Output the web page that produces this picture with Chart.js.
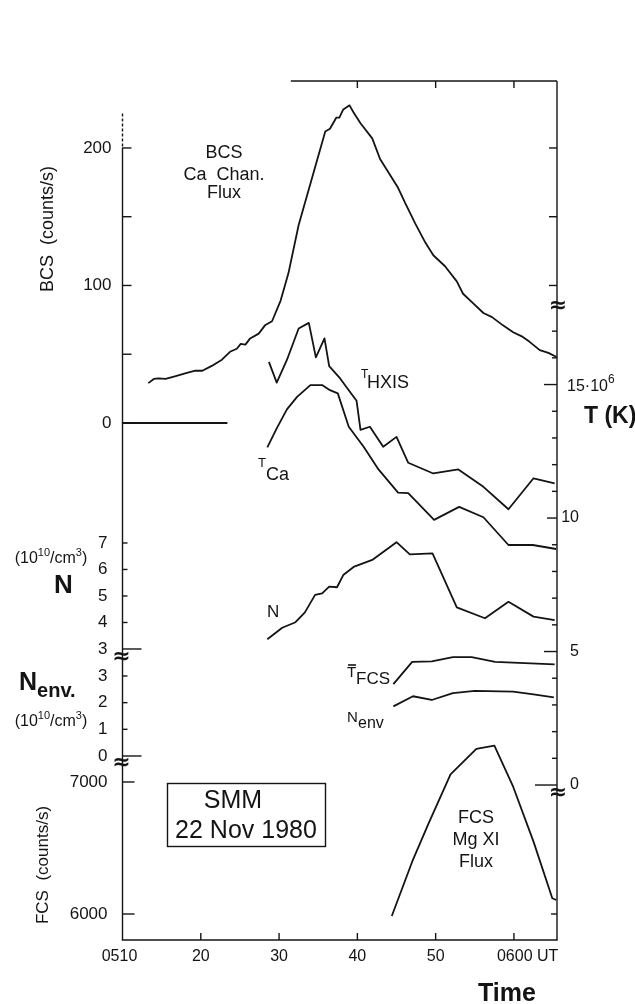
<!DOCTYPE html>
<html><head><meta charset="utf-8">
<script src="https://cdn.jsdelivr.net/npm/chart.js@4.4.1/dist/chart.umd.min.js"></script>
<style>html,body{margin:0;padding:0;background:#fff}#wrap{width:635px;height:1004px;position:relative}</style>
</head><body><div id="wrap"><canvas id="c"></canvas></div>
<script>
// ---- data (time in minutes after 05:00 UT) ----
const bcsTime = [13.3,14.0,14.6,15.5,16.8,18.0,19.3,20.2,21.4,22.7,23.8,24.6,25.1,25.7,26.3,27.4,28.2,29.1,30.2,31.2,32.5,34.4,35.9,36.5,37.3,37.7,38.2,39.0,39.5,40.4,41.9,42.9,44.0,45.2,46.1,47.4,48.7,49.7,51.2,52.7,53.5,54.8,56.1,57.2,58.6,59.9,61.0,62.0,63.3,64.4,65.45];
const bcsFlux = [29,32,32.5,32,34,36,38,38,41.5,46,52,54,57.5,57,61.5,65,71,74,89,109,144,182,212,214,222,222,228,231,226,218,207,192,182,171,160,145,131,122,114,103,94,87,80,77,71,66,63,59,53,51,48];
const bcsZeroTime = [10,23.4];
const bcsZeroFlux = [0,0];
const thxisTime = [28.7,29.7,31.0,32.5,33.8,34.7,35.8,36.4,37.8,38.9,39.9,40.4,41.6,43.3,45.0,46.5,49.7,52.9,56.1,59.3,62.5,65.2];
const thxisTemp = [15.85,15.07,15.92,17.10,17.31,16.02,16.73,15.69,15.23,14.79,14.39,13.30,13.42,12.67,13.04,12.07,11.67,11.82,11.17,10.33,11.49,11.30];
const tcaTime = [28.5,29.7,31.0,32.3,34.0,35.5,36.5,37.5,38.9,40.8,42.7,45.2,46.5,49.8,53.0,56.1,59.3,62.4,65.4];
const tcaTemp = [12.65,13.36,14.07,14.54,14.98,14.98,14.79,14.67,13.42,12.67,11.82,10.95,10.93,9.93,10.42,10.03,8.99,8.99,8.84];
const nTime = [28.5,30.4,32.1,33.3,34.6,35.5,36.4,37.4,38.2,39.6,41.9,45.0,46.7,49.6,52.7,56.3,59.3,62.5,65.2];
const nDens = [3.37,3.80,4.01,4.38,5.04,5.10,5.35,5.33,5.79,6.11,6.36,7.03,6.57,6.61,4.57,4.16,4.78,4.22,4.09];
const tfcsTime = [44.6,47.0,49.5,52.2,54.6,57.6,65.2];
const tfcsTemp = [3.78,4.61,4.63,4.79,4.79,4.61,4.52];
const nenvTime = [44.6,47.1,49.5,52.2,55.0,59.9,62.5,65.1];
const nenvDens = [1.86,2.24,2.10,2.36,2.44,2.41,2.31,2.20];
const fcsTime = [44.4,47.0,49.1,51.9,55.2,57.5,59.9,62.5,64.9,65.4];
const fcsFlux = [5985,6396,6687,7058,7250,7275,6964,6548,6119,6106];

// ---- tick labels ----
const xTickValues = [10,20,30,40,50,60];
const xTickLabels = ['0510','20','30','40','50','0600 UT'];
const bcsTickValues = [0,100,200];
const bcsMinorTicks = [0,50,100,150,200];
const nTickValues = [3,4,5,6,7];
const nenvTickValues = [0,1,2,3];
const fcsTickValues = [6000,7000];
const fcsTickLabels = ['6000','7000'];
const tTickValues = [0,5,10];
const tMinorTicks = [0,1,2,3,4,5,6,7,8,9,10,11,12,13,14,15,16,17];

const INK = '#141414';
const FONT = '"Liberation Sans", Arial, sans-serif';

function pts(xs, ys){ return xs.map((x,i)=>({x:x, y:ys[i]})); }
function ds(label, xs, ys, axis){
  return {label:label, data:pts(xs,ys), yAxisID:axis, borderColor:INK, borderWidth:1.8,
          pointRadius:0, tension:0, fill:false, borderJoinStyle:'round'};
}

function drawRich(ctx, x, y, segs, align){
  let w = 0;
  segs.forEach(s=>{ ctx.font = s[1]; w += ctx.measureText(s[0]).width; });
  let cx = align==='center' ? x - w/2 : (align==='right' ? x - w : x);
  ctx.textAlign = 'left'; ctx.textBaseline = 'alphabetic';
  segs.forEach(s=>{ ctx.font = s[1]; ctx.fillText(s[0], cx, y + (s[2]||0)); cx += ctx.measureText(s[0]).width; });
}

const frame = {
  id:'frame',
  afterDraw(chart){
    const ctx = chart.ctx, ca = chart.chartArea, s = chart.scales;
    const L = ca.left, R = ca.right, T = ca.top, B = ca.bottom;
    const X = v => s.x.getPixelForValue(v);
    ctx.save();
    ctx.strokeStyle = INK; ctx.fillStyle = INK; ctx.lineWidth = 1.4;
    const seg = (x1,y1,x2,y2)=>{ ctx.beginPath(); ctx.moveTo(x1,y1); ctx.lineTo(x2,y2); ctx.stroke(); };
    const txt = (t,x,y,f,al,bl)=>{ ctx.font=f; ctx.textAlign=al||'left'; ctx.textBaseline=bl||'alphabetic'; ctx.fillText(t,x,y); };

    // axes
    const yTopLeft = s.yBCS.getPixelForValue(225);
    ctx.setLineDash([3,2]); seg(L, yTopLeft, L, yTopLeft+34); ctx.setLineDash([]);
    seg(L, yTopLeft+34, L, B);
    seg(L-0.7, B, R+0.7, B);
    seg(R, T, R, B);
    seg(X(31.5), T, R, T);

    // x ticks
    xTickValues.forEach((v,i)=>{
      if (i>0) seg(X(v), B, X(v), B-7);
      const lab = xTickLabels[i];
      if (lab.indexOf('UT')>0){ txt(lab, X(v)-17, 957, '16px '+FONT, 'left', 'middle'); }
      else txt(lab, X(v)-(i===0?3:0), 957, '16px '+FONT, 'center', 'middle');
    });
    [40,50,60].forEach(v=>seg(X(v), T, X(v), T+7));
    txt('Time', 478, 1001, 'bold 25px '+FONT, 'left', 'alphabetic');

    // BCS axis
    bcsMinorTicks.forEach(v=>{ const y=s.yBCS.getPixelForValue(v); seg(L,y,L+9,y); });
    bcsTickValues.forEach(v=>{ const y=s.yBCS.getPixelForValue(v); txt(String(v), L-11, y, '17px '+FONT, 'right', 'middle'); });
    [100,150,200].forEach(v=>{ const y=s.yBCS.getPixelForValue(v); seg(R-8,y,R,y); });
    ctx.save(); ctx.translate(48, 229); ctx.rotate(-Math.PI/2);
    txt('BCS  (counts/s)', 0, 0, '18px '+FONT, 'center', 'middle'); ctx.restore();

    // N axis
    nTickValues.forEach(v=>{ const y=s.yN.getPixelForValue(v); seg(L,y,L+(v===3?19:5),y);
      txt(String(v), L-15, y, '17px '+FONT, 'right', 'middle'); });
    drawRich(ctx, 51, 563, [['(10','16px '+FONT],['10','11px '+FONT,-7],['/cm','16px '+FONT],['3','11px '+FONT,-7],[')','16px '+FONT]], 'center');
    txt('N', 54, 593, 'bold 26px '+FONT, 'left', 'alphabetic');

    // Nenv axis
    nenvTickValues.forEach(v=>{ const y=s.yNenv.getPixelForValue(v); seg(L,y,L+(v===0?19:5),y);
      txt(String(v), L-15, y, '17px '+FONT, 'right', 'middle'); });
    drawRich(ctx, 19, 690, [['N','bold 25px '+FONT],['env.','bold 20px '+FONT,7]], 'left');
    drawRich(ctx, 51, 726, [['(10','16px '+FONT],['10','11px '+FONT,-7],['/cm','16px '+FONT],['3','11px '+FONT,-7],[')','16px '+FONT]], 'center');

    // FCS axis
    fcsTickValues.forEach((v,i)=>{ const y=s.yFCS.getPixelForValue(v); seg(L,y,L+12,y);
      txt(fcsTickLabels[i], L-15, y, '17px '+FONT, 'right', 'middle'); });
    { const y=s.yFCS.getPixelForValue(6000); seg(R-6,y,R,y); }
    ctx.save(); ctx.translate(43, 865); ctx.rotate(-Math.PI/2);
    txt('FCS  (counts/s)', 0, 0, '17px '+FONT, 'center', 'middle'); ctx.restore();

    // T axis (right)
    tMinorTicks.forEach(v=>{ const y=s.yT.getPixelForValue(v);
      const len = v===0?22:(v===5?13:(v===10?10:(v===15?13:5))); seg(R-len,y,R,y); });
    tTickValues.forEach(v=>{ const y=s.yT.getPixelForValue(v); txt(String(v), 579, y, '16px '+FONT, 'right', 'middle'); });
    drawRich(ctx, 567, 391, [['15·10','16px '+FONT],['6','12px '+FONT,-8]], 'left');
    txt('T (K)', 584, 423, 'bold 23px '+FONT, 'left', 'alphabetic');

    // axis breaks
    const brk = (x,y)=>{ txt('≈', x, y, 'bold 22px "DejaVu Sans", sans-serif', 'center', 'middle'); };
    brk(L-1, s.yN.getPixelForValue(2.7));
    brk(L-1, s.yNenv.getPixelForValue(-0.27));
    brk(R+1, s.yBCS.getPixelForValue(85));
    brk(R+1, s.yT.getPixelForValue(-0.3));

    // curve annotations
    txt('BCS', 224, 158, '18px '+FONT, 'center');
    txt('Ca  Chan.', 224, 180, '18px '+FONT, 'center');
    txt('Flux', 224, 198, '18px '+FONT, 'center');
    drawRich(ctx, 361, 378, [['T','12px '+FONT]], 'left');
    drawRich(ctx, 367, 388, [['HXIS','18px '+FONT]], 'left');
    drawRich(ctx, 258, 467, [['T','13px '+FONT]], 'left');
    drawRich(ctx, 266, 480, [['Ca','18px '+FONT]], 'left');
    txt('N', 267, 617, '17px '+FONT, 'left');
    txt('T', 347, 677, '15px '+FONT, 'left');
    ctx.lineWidth = 1.6; seg(348, 665, 356, 665); ctx.lineWidth = 1.4;
    txt('FCS', 356, 684, '17px '+FONT, 'left');
    txt('N', 347, 722, '15px '+FONT, 'left');
    txt('env', 358, 728, '16px '+FONT, 'left');
    txt('FCS', 476, 823, '18px '+FONT, 'center');
    txt('Mg XI', 476, 845, '18px '+FONT, 'center');
    txt('Flux', 476, 867, '18px '+FONT, 'center');

    // SMM box
    ctx.lineWidth = 1.4; ctx.strokeRect(167.5, 783.5, 158, 63);
    txt('SMM', 233, 808, '25px '+FONT, 'center');
    txt('22 Nov 1980', 246, 838, '25px '+FONT, 'center');
    ctx.restore();
  }
};

new Chart(document.getElementById('c'), {
  type:'line',
  data:{ datasets:[
    ds('BCS Ca Chan. Flux', bcsTime, bcsFlux, 'yBCS'),
    ds('BCS zero', bcsZeroTime, bcsZeroFlux, 'yBCS'),
    ds('T HXIS', thxisTime, thxisTemp, 'yT'),
    ds('T Ca', tcaTime, tcaTemp, 'yT'),
    ds('N', nTime, nDens, 'yN'),
    ds('T FCS', tfcsTime, tfcsTemp, 'yT'),
    ds('N env', nenvTime, nenvDens, 'yNenv'),
    ds('FCS Mg XI Flux', fcsTime, fcsFlux, 'yFCS')
  ]},
  options:{
    responsive:true, maintainAspectRatio:false, animation:false,
    layout:{ padding:{ left:122.5, right:78, top:81, bottom:64 } },
    plugins:{ legend:{display:false}, tooltip:{enabled:false} },
    scales:{
      x:{ type:'linear', min:10, max:65.5, display:false },
      yBCS:{ type:'linear', min:-376, max:248.7, display:false },
      yT:{ type:'linear', min:-5.805, max:26.37, display:false },
      yN:{ type:'linear', min:-7.98, max:24.43, display:false },
      yNenv:{ type:'linear', min:-6.90, max:25.31, display:false },
      yFCS:{ type:'linear', min:5803, max:12310, display:false }
    }
  },
  plugins:[frame]
});
</script>
</body></html>
